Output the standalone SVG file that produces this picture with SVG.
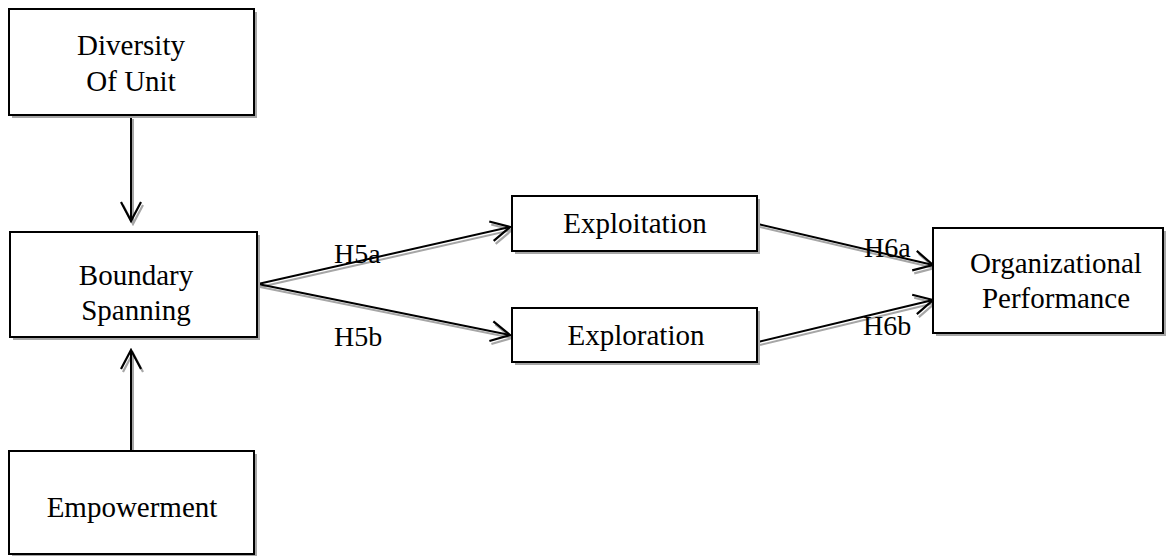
<svg xmlns="http://www.w3.org/2000/svg" width="1171" height="556" viewBox="0 0 1171 556">
  <style>
    .box { fill: #ffffff; stroke: #000000; stroke-width: 2; }
    .shadow { fill: #a6a6a6; stroke: none; }
    .label { font-family: "Liberation Serif", "Times New Roman", serif; font-size: 29px; fill: #000000; text-anchor: middle; }
    .hyp { font-family: "Liberation Serif", "Times New Roman", serif; font-size: 28px; fill: #000000; }
    .edge { fill: none; stroke: #000000; stroke-width: 2; marker-end: url(#arrow); }
    .edge-shadow { fill: none; stroke: #a6a6a6; stroke-width: 2; marker-end: url(#arrow-shadow); }
  </style>
  <defs>
    <marker id="arrow" viewBox="-22 -12 24 24" refX="0" refY="0" markerWidth="24" markerHeight="24" markerUnits="userSpaceOnUse" orient="auto">
      <path d="M -19 -10 L 0 0 L -19 10" fill="none" stroke="#000000" stroke-width="2.2"/>
    </marker>
    <marker id="arrow-shadow" viewBox="-22 -12 24 24" refX="0" refY="0" markerWidth="24" markerHeight="24" markerUnits="userSpaceOnUse" orient="auto">
      <path d="M -19 -10 L 0 0 L -19 10" fill="none" stroke="#a6a6a6" stroke-width="2.2"/>
    </marker>
  </defs>

  <rect width="1171" height="556" fill="#ffffff"/>

  <!-- connectors: soft gray copy underneath, black line on top -->
  <g id="connectors">
    <g transform="translate(2,3)">
      <line class="edge-shadow" x1="131" y1="116" x2="131" y2="221"/>
      <line class="edge-shadow" x1="131" y1="450" x2="131" y2="350"/>
      <line class="edge-shadow" x1="258" y1="284" x2="510" y2="227"/>
      <line class="edge-shadow" x1="258" y1="284" x2="510" y2="335"/>
      <line class="edge-shadow" x1="758" y1="224" x2="933" y2="265"/>
      <line class="edge-shadow" x1="758" y1="342" x2="933" y2="300"/>
    </g>
    <line class="edge" x1="131" y1="116" x2="131" y2="221"/>
    <line class="edge" x1="131" y1="450" x2="131" y2="350"/>
    <line class="edge" x1="258" y1="284" x2="510" y2="227"/>
    <line class="edge" x1="258" y1="284" x2="510" y2="335"/>
    <line class="edge" x1="758" y1="224" x2="933" y2="265"/>
    <line class="edge" x1="758" y1="342" x2="933" y2="300"/>
    <text class="hyp" x="334" y="263">H5a</text>
    <text class="hyp" x="334" y="346">H5b</text>
    <text class="hyp" x="864" y="257">H6a</text>
    <text class="hyp" x="863" y="335">H6b</text>
  </g>

  <g id="diversity">
    <rect class="shadow" x="12" y="12" width="245" height="106"/>
    <rect class="box" x="9" y="9" width="245" height="106"/>
    <text class="label" x="131" y="55">Diversity</text>
    <text class="label" x="131" y="91">Of Unit</text>
  </g>

  <g id="boundary-spanning">
    <rect class="shadow" x="13" y="235" width="247" height="105"/>
    <rect class="box" x="10" y="232" width="247" height="105"/>
    <text class="label" x="136" y="285">Boundary</text>
    <text class="label" x="136" y="320">Spanning</text>
  </g>

  <g id="empowerment">
    <rect class="shadow" x="12" y="454" width="245" height="103"/>
    <rect class="box" x="9" y="451" width="245" height="103"/>
    <text class="label" x="132" y="517">Empowerment</text>
  </g>

  <g id="exploitation">
    <rect class="shadow" x="515" y="199" width="245" height="55"/>
    <rect class="box" x="512" y="196" width="245" height="55"/>
    <text class="label" x="635" y="233">Exploitation</text>
  </g>

  <g id="exploration">
    <rect class="shadow" x="515" y="311" width="245" height="54"/>
    <rect class="box" x="512" y="308" width="245" height="54"/>
    <text class="label" x="636" y="345">Exploration</text>
  </g>

  <g id="organizational-performance">
    <rect class="shadow" x="936" y="231" width="230" height="105"/>
    <rect class="box" x="933" y="228" width="230" height="105"/>
    <text class="label" x="1056" y="273">Organizational</text>
    <text class="label" x="1056" y="308">Performance</text>
  </g>
</svg>
